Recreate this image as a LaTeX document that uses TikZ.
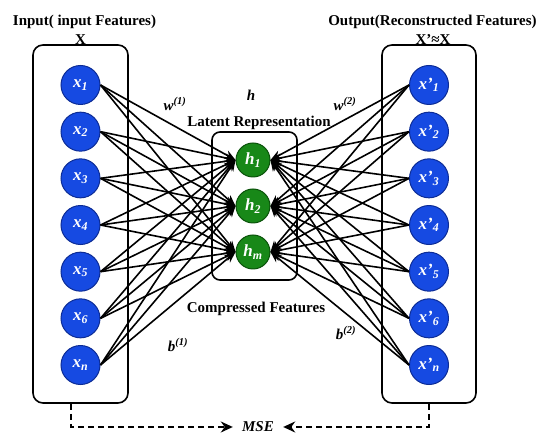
\documentclass[tikz,border=0pt]{standalone}
\usepackage{fontspec}
\setmainfont{Liberation Serif}
\usetikzlibrary{arrows.meta}
\definecolor{nblue}{RGB}{22,74,226}
\definecolor{nblueb}{RGB}{12,44,150}
\definecolor{ngreen}{RGB}{24,136,24}
\definecolor{ngreenb}{RGB}{10,82,10}
\begin{document}
\begin{tikzpicture}[x=1pt,y=-1pt,
  innode/.style={circle, fill=nblue, draw=nblueb, line width=1pt, minimum size=39pt, inner sep=0pt, text=white, font=\fontsize{17}{17}\selectfont\bfseries\itshape},
  hnode/.style={circle, fill=ngreen, draw=ngreenb, line width=1pt, minimum size=34pt, inner sep=0pt, text=white, font=\fontsize{17}{17}\selectfont\bfseries\itshape},
  group/.style={draw, line width=1.6pt, rounded corners=10pt, inner sep=0pt},
  conn/.style={line width=1.6pt, -{Stealth[length=11pt,width=9pt]}},
  title/.style={font=\fontsize{15}{18}\selectfont\bfseries, inner sep=1pt},
  ilbl/.style={font=\fontsize{15}{16}\selectfont\bfseries\itshape, inner sep=1pt},
  dashline/.style={line width=1.6pt, dash pattern=on 6pt off 4pt, -{Stealth[length=12pt,width=11pt]}}
]
\useasboundingbox (0,0) rectangle (550,443);
% group boxes
\node[group, minimum width=95pt, minimum height=358pt] (inbox) at (80.5,224) {};
\node[group, minimum width=94pt, minimum height=358pt] (outbox) at (429,224) {};
\node[group, rounded corners=8pt, minimum width=85pt, minimum height=148pt] (midbox) at (254.5,206) {};
% nodes
\foreach \i/\s in {1/1,2/2,3/3,4/4,5/5,6/6,7/n} {
  \node[innode] (x\i) at (80.5,{85+46.67*(\i-1)}) {x\textsubscript{\s}};
  \node[innode] (y\i) at (429,{85+46.67*(\i-1)}) {x'\textsubscript{\s}};
}
\node[hnode] (h1) at (253,160) {h\textsubscript{1}};
\node[hnode] (h2) at (253,206) {h\textsubscript{2}};
\node[hnode] (h3) at (253,252) {h\textsubscript{m}};
% connections
\foreach \i in {1,...,7} {
  \foreach \j in {1,2,3} {
    \draw[conn] (x\i.east) -- (h\j.west);
    \draw[conn] (y\i.west) -- (h\j.east);
  }
}
% labels
\node[title] (tin) at (84.5,22) {Input( input Features)};
\node[title] (tx) at (80.5,40) {X};
\node[title] (tout) at (432.5,22) {Output(Reconstructed Features)};
\node[title] (txp) at (433,40) {X'≈X};
\node[ilbl] (hl) at (251,95) {h};
\node[title] (lat) at (259,123) {Latent Representation};
\node[ilbl] (w1) at (175,104) {w\textsuperscript{(1)}};
\node[ilbl] (w2) at (345,104) {w\textsuperscript{(2)}};
\node[title] (comp) at (256,309) {Compressed Features};
\node[ilbl] (b1) at (178,345) {b\textsuperscript{(1)}};
\node[ilbl] (b2) at (346,333) {b\textsuperscript{(2)}};
% MSE
\node[font=\fontsize{15}{16}\selectfont\bfseries\itshape, inner sep=0pt, minimum width=50pt] (mse) at (258,427) {MSE};
\draw[dashline] ([xshift=-9.5pt]inbox.south) |- (mse.west);
\draw[dashline] (outbox.south) |- (mse.east);
\end{tikzpicture}
\end{document}
